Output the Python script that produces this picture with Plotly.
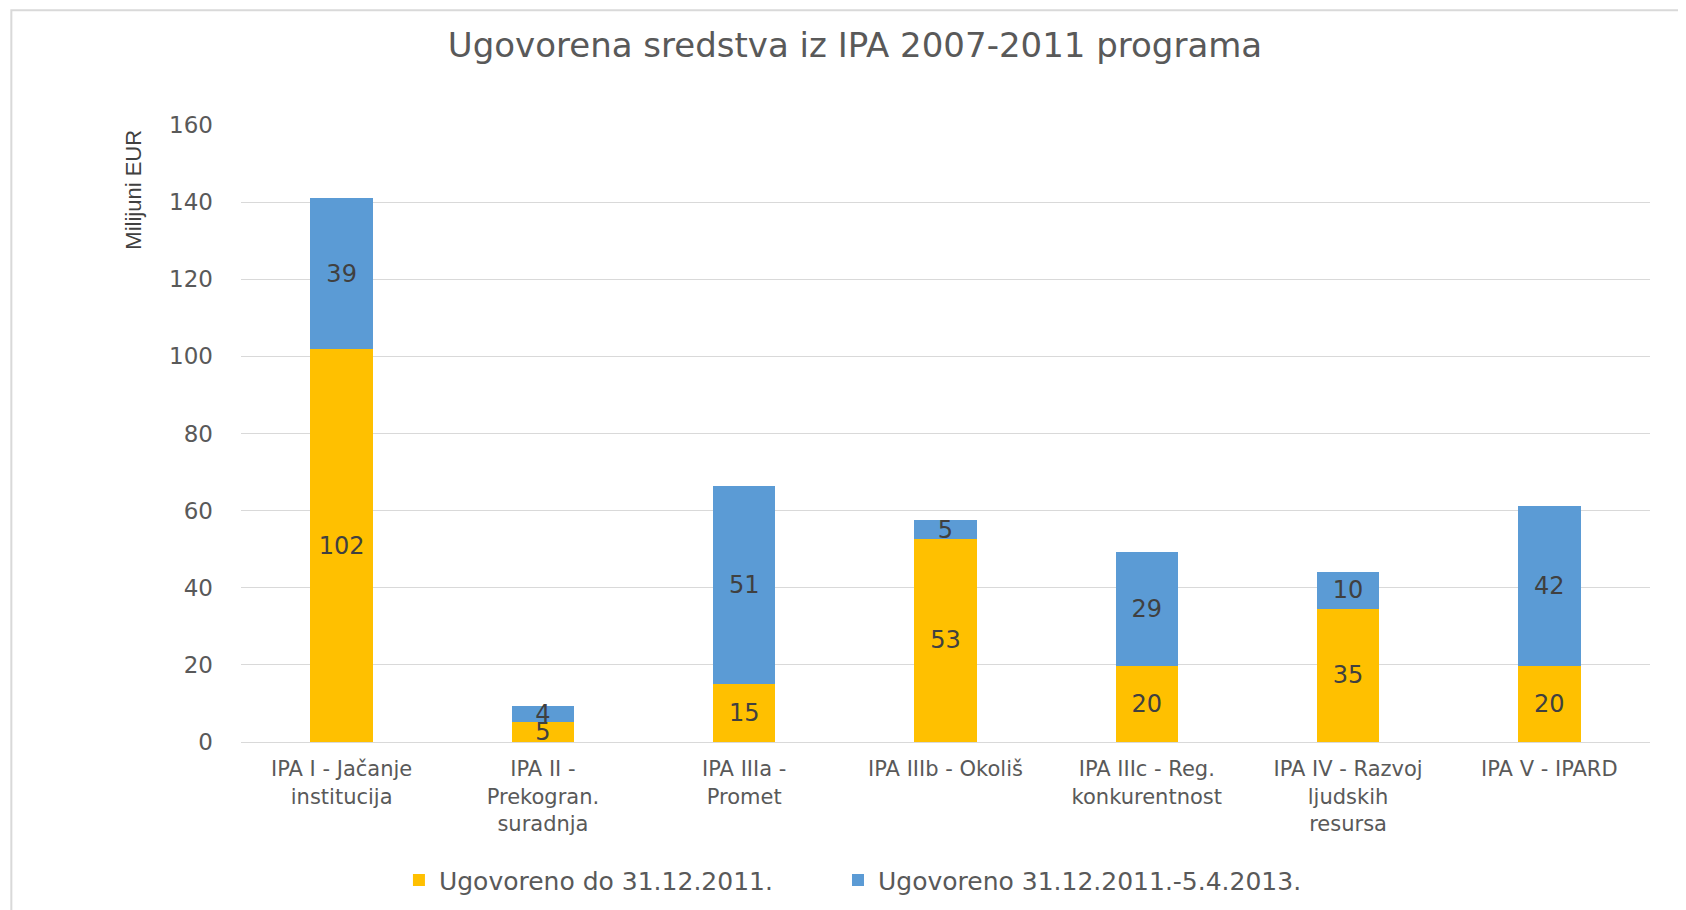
import plotly.graph_objects as go

categories = [
    "IPA I - Jačanje<br>institucija",
    "IPA II -<br>Prekogran.<br>suradnja",
    "IPA IIIa -<br>Promet",
    "IPA IIIb - Okoliš",
    "IPA IIIc - Reg.<br>konkurentnost",
    "IPA IV - Razvoj<br>ljudskih<br>resursa",
    "IPA V - IPARD",
]
do_2011 = [101.8, 5.2, 15.0, 52.7, 19.8, 34.6, 19.6]
do_2013 = [39.3, 4.1, 51.3, 4.8, 29.4, 9.6, 41.6]
series_names = ["Ugovoreno do 31.12.2011.", "Ugovoreno 31.12.2011.-5.4.2013."]
colors = ["#FFC000", "#5B9BD5"]
y_ticks = [0, 20, 40, 60, 80, 100, 120, 140, 160]

FONT = "DejaVu Sans"
GREY = "#595959"

fig = go.Figure()
for name, vals, col, leg in zip(series_names, [do_2011, do_2013], colors, ["legend", "legend2"]):
    fig.add_trace(go.Bar(
        x=categories, y=vals, name=name, legend=leg,
        marker=dict(color=col, line=dict(width=0)),
        text=[f"{v:.0f}" for v in vals],
        textposition="inside", insidetextanchor="middle",
        textangle=0, constraintext="none",
        textfont=dict(family=FONT, size=24, color="#404040"),
        cliponaxis=False,
    ))

legend_common = dict(orientation="h", xanchor="left", y=-0.224, yanchor="middle",
                     font=dict(family=FONT, size=25, color=GREY),
                     itemwidth=30, itemclick=False, bgcolor="rgba(0,0,0,0)")

fig.update_layout(
    barmode="stack",
    bargap=0.69,
    width=1686, height=910,
    margin=dict(l=233, r=44, t=117, b=176),
    paper_bgcolor="white", plot_bgcolor="white",
    title=dict(text="Ugovorena sredstva iz IPA 2007-2011 programa",
               x=847 / 1686, xanchor="center", y=1 - 37 / 910, yanchor="middle",
               font=dict(family=FONT, size=34, color=GREY)),
    font=dict(family=FONT, size=23, color=GREY),
    legend=dict(x=0.1121, **legend_common),
    legend2=dict(x=0.4237, **legend_common),
    showlegend=True,
)
fig.update_xaxes(showgrid=False, showline=True, linecolor="#D9D9D9", linewidth=1,
                 ticks="", ticklabelstandoff=8,
                 tickfont=dict(family=FONT, size=21, color=GREY))
fig.update_yaxes(range=[0, 160], tickvals=y_ticks, showgrid=True, gridcolor="#D9D9D9",
                 gridwidth=1, zeroline=False, showline=False, ticks="",
                 ticklabelstandoff=27,
                 tickfont=dict(family=FONT, size=23, color=GREY))

fig.add_annotation(text="Milijuni EUR", textangle=-90, xref="paper", yref="paper",
                   x=-0.076, y=0.895, xanchor="center", yanchor="middle", showarrow=False,
                   font=dict(family="Liberation Sans", size=22, color="#404040"))

fig.add_shape(type="rect", xref="paper", yref="paper",
              x0=-0.163, x1=1.04, y0=-0.3, y1=1.186,
              line=dict(color="#D9D9D9", width=2), fillcolor="rgba(0,0,0,0)", layer="below")

fig.write_html("out.html")
